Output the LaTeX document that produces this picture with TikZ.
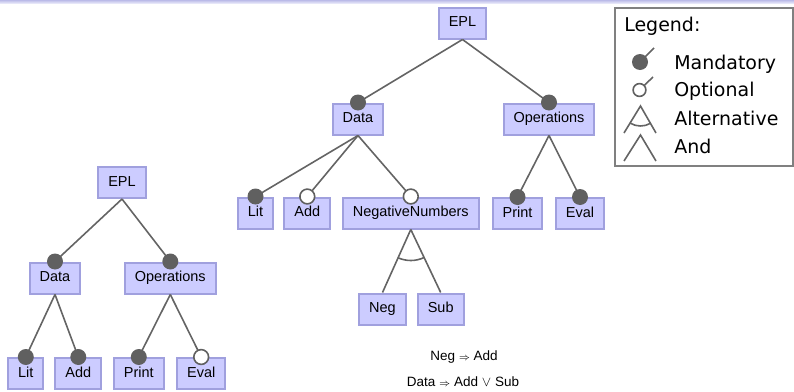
\documentclass[tikz,border=0pt]{standalone}
\usepackage{fontspec}
\setmainfont{Liberation Sans}
\newfontfamily\legendfont{DejaVu Sans}
\usetikzlibrary{calc}

\definecolor{featfill}{RGB}{204,204,255}
\definecolor{featline}{RGB}{160,160,222}
\definecolor{edgegray}{RGB}{100,100,100}
\definecolor{dotgray}{RGB}{96,96,96}
\definecolor{bandtop}{RGB}{186,186,232}
\definecolor{bandbot}{RGB}{230,230,248}

\begin{document}
\begin{tikzpicture}[x=0.25mm, y=-0.25mm,
  feature/.style={draw=featline, fill=featfill, line width=0.5mm,
    inner xsep=2.5mm, inner ysep=0mm, minimum height=7.75mm,
    text height=2.6mm, text depth=0.75mm,
    font=\fontsize{10.3pt}{12pt}\selectfont},
  edge/.style={draw=edgegray, line width=0.4mm},
  mand/.style={fill=dotgray},
  opt/.style={draw=dotgray, fill=white, line width=0.4mm},
  constraint/.style={font=\fontsize{9.6pt}{11pt}\selectfont},
  legendtext/.style={anchor=base west, inner sep=0pt,
    font=\legendfont\fontsize{13.5pt}{16pt}\selectfont}]

\useasboundingbox (0,0) rectangle (794,392);
\shade[top color=bandtop, bottom color=bandbot] (0,0) rectangle (794,3);

% left model
\node[feature] (lEPL) at (122,182.5) {EPL};
\node[feature] (lData) at (55,278) {Data};
\node[feature] (lOps) at (170.3,278) {Operations};
\node[feature] (lLit) at (25.8,373.5) {Lit};
\node[feature] (lAdd) at (78.3,373.5) {Add};
\node[feature] (lPrint) at (138.8,373.5) {Print};
\node[feature] (lEval) at (201.2,373.5) {Eval};

\draw[edge] (lEPL.south) -- (lData.north);
\draw[edge] (lEPL.south) -- (lOps.north);
\draw[edge] (lData.south) -- (lLit.north);
\draw[edge] (lData.south) -- (lAdd.north);
\draw[edge] (lOps.south) -- (lPrint.north);
\draw[edge] (lOps.south) -- (lEval.north);

\fill[mand] (lData.north) circle[radius=2mm];
\fill[mand] (lOps.north) circle[radius=2mm];
\fill[mand] (lLit.north) circle[radius=2mm];
\fill[mand] (lAdd.north) circle[radius=2mm];
\fill[mand] (lPrint.north) circle[radius=2mm];
\draw[opt] (lEval.north) circle[radius=1.85mm];

% right model
\node[feature] (rEPL) at (462.5,23) {EPL};
\node[feature] (rData) at (358,119) {Data};
\node[feature] (rOps) at (549,119) {Operations};
\node[feature] (rLit) at (255.5,213) {Lit};
\node[feature] (rAdd) at (307.3,213) {Add};
\node[feature] (rNegNum) at (410.8,213) {NegativeNumbers};
\node[feature] (rPrint) at (517.5,213.5) {Print};
\node[feature] (rEval) at (580,213.5) {Eval};
\node[feature] (rNeg) at (382.5,309) {Neg};
\node[feature] (rSub) at (440.7,309) {Sub};

\draw[edge] (rEPL.south) -- (rData.north);
\draw[edge] (rEPL.south) -- (rOps.north);
\draw[edge] (rData.south) -- (rLit.north);
\draw[edge] (rData.south) -- (rAdd.north);
\draw[edge] (rData.south) -- (rNegNum.north);
\draw[edge] (rOps.south) -- (rPrint.north);
\draw[edge] (rOps.south) -- (rEval.north);
\draw[edge] (rNegNum.south) -- (rNeg.north);
\draw[edge] (rNegNum.south) -- (rSub.north);
\draw[edge] (rNegNum.south) ++(246:7.75mm) arc[start angle=246, end angle=294.9, radius=7.75mm];

\fill[mand] (rData.north) circle[radius=2mm];
\fill[mand] (rOps.north) circle[radius=2mm];
\fill[mand] (rLit.north) circle[radius=2mm];
\draw[opt] (rAdd.north) circle[radius=1.85mm];
\draw[opt] (rNegNum.north) circle[radius=1.85mm];
\fill[mand] (rPrint.north) circle[radius=2mm];
\fill[mand] (rEval.north) circle[radius=2mm];

\node[constraint] (negadd) at (464,357) {Neg $\scriptstyle\Rightarrow$ Add};
\node[constraint] (dataor) at (463,382) {Data $\scriptstyle\Rightarrow$ Add $\vee$ Sub};

% legend
\draw[draw=gray, line width=0.4mm] (615,8) rectangle (793,166);
\node[legendtext] (legtitle) at (624,31) {Legend:};
\node[legendtext] (legmand) at (674,69) {Mandatory};
\node[legendtext] (legopt) at (674,96.5) {Optional};
\node[legendtext] (legalt) at (674,125) {Alternative};
\node[legendtext] (legand) at (674,153) {And};

\draw[edge] (640,62) -- (654,48);
\fill[mand] (640,62) circle[radius=2mm];
\draw[edge] (639.5,90) -- (653,77);
\draw[opt] (639.5,90) circle[radius=1.6mm];
\draw[edge] (624,133) -- (640.5,106) -- (656,133);
\draw[edge] (640.5,106) ++(238.6:5mm) arc[start angle=238.6, end angle=299.9, radius=5mm];
\draw[edge] (624,161) -- (640.5,135) -- (656,161);
\end{tikzpicture}
\end{document}
